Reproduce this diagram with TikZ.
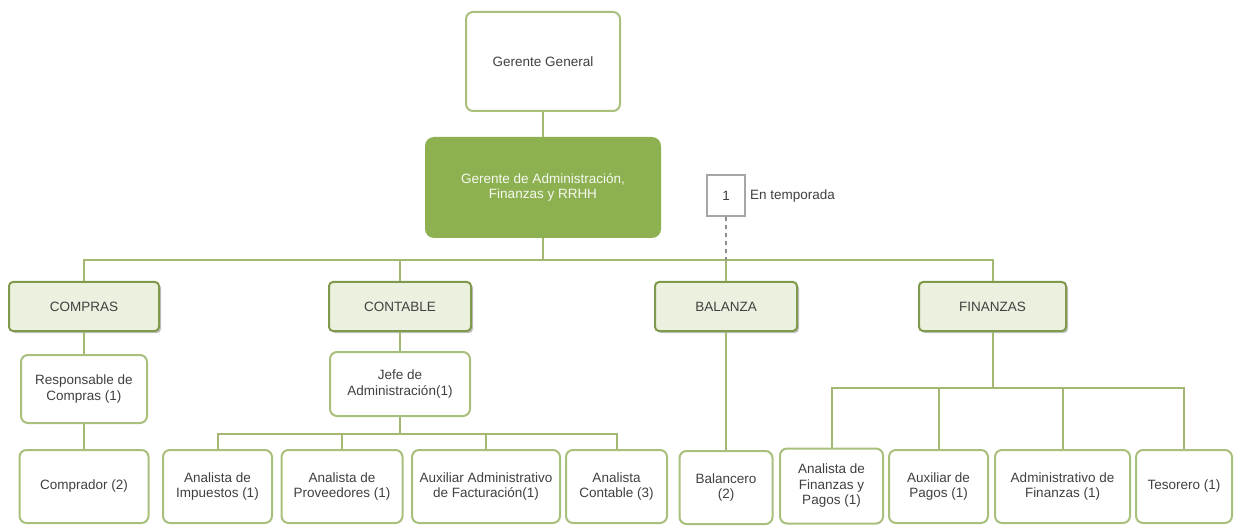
\documentclass[tikz,border=0pt]{standalone}
\usepackage{fontspec}
\setmainfont{Liberation Sans}
\usetikzlibrary{shadows}
\definecolor{linecol}{HTML}{A2B873}
\definecolor{boxline}{HTML}{A9C07C}
\definecolor{deptfill}{HTML}{EBF1DE}
\definecolor{deptline}{HTML}{7F9A4C}
\definecolor{mainfill}{HTML}{8DB151}
\definecolor{txt}{HTML}{404040}
\tikzset{
  every node/.style={font=\fontsize{13.5}{15.5}\selectfont, text=txt, align=center, inner sep=2pt},
  plain/.style={draw=boxline, line width=2pt, fill=white, rounded corners=7pt},
  dept/.style={draw=deptline, line width=2pt, fill=deptfill, rounded corners=4pt,
    drop shadow={shadow xshift=2pt, shadow yshift=-2pt, fill=black!40, opacity=.6}},
  head/.style={fill=mainfill, rounded corners=9pt, text=white!92!mainfill},
  note/.style={draw=black!35, line width=1.2pt, fill=white},
  conn/.style={draw=linecol, line width=2pt},
  dashconn/.style={draw=black!45, line width=1.2pt, dash pattern=on 4pt off 4pt}
}
\begin{document}
\begin{tikzpicture}[x=1pt, y=-1pt]
\useasboundingbox (0,0) rectangle (1238,526);

% top management
\node[plain, minimum width=154, minimum height=99] (gg) at (543,61.5) {Gerente General};
\node[head, minimum width=236, minimum height=101] (ga) at (543,187.5) {Gerente de Administración,\\ Finanzas y RRHH};

% seasonal legend
\node[note, minimum width=38, minimum height=41] (leg) at (726,195.5) {1};
\node[anchor=west, inner sep=0pt] (legtxt) at (750,196) {En temporada};

% departments
\node[dept, minimum width=150, minimum height=49] (compras) at (84,306.5) {COMPRAS};
\node[dept, minimum width=142, minimum height=49] (contable) at (400,306.5) {CONTABLE};
\node[dept, minimum width=142, minimum height=49] (balanza) at (726,306.5) {BALANZA};
\node[dept, minimum width=147, minimum height=49] (finanzas) at (992.5,306.5) {FINANZAS};

% second level
\node[plain, minimum width=126, minimum height=68] (resp) at (84,389) {Responsable de\\ Compras (1)};
\node[plain, minimum width=140, minimum height=64] (jefe) at (400,384) {Jefe de\\ Administración(1)};

% staff
\node[plain, minimum width=129, minimum height=73] (compr) at (84,486.5) {Comprador (2)};
\node[plain, minimum width=109, minimum height=73] (imp) at (217.5,486.5) {Analista de\\ Impuestos (1)};
\node[plain, minimum width=121, minimum height=73] (prov) at (342,486.5) {Analista de\\ Proveedores (1)};
\node[plain, minimum width=148, minimum height=73] (aux) at (486,486.5) {Auxiliar Administrativo\\ de Facturación(1)};
\node[plain, minimum width=101, minimum height=73] (acont) at (616.5,486.5) {Analista\\ Contable (3)};
\node[plain, minimum width=93, minimum height=73] (bal) at (726,487.5) {Balancero\\ (2)};
\node[plain, minimum width=103, minimum height=75] (afin) at (831.5,486) {Analista de\\ Finanzas y\\ Pagos (1)};
\node[plain, minimum width=99, minimum height=73] (apag) at (938.5,486.5) {Auxiliar de\\ Pagos (1)};
\node[plain, minimum width=135, minimum height=73] (adfin) at (1062.5,486.5) {Administrativo de\\ Finanzas (1)};
\node[plain, minimum width=96, minimum height=73] (tes) at (1184,486.5) {Tesorero (1)};

% bus levels
\coordinate (bus) at (0,260);
\coordinate (busc) at (0,434);
\coordinate (busf) at (0,388);

\draw[conn] (gg.south) -- (ga.north);
\draw[conn] (ga.south) -- (ga.south |- bus) -| (compras.north);
\draw[conn] (ga.south |- bus) -| (contable.north);
\draw[conn] (ga.south |- bus) -| (balanza.north);
\draw[conn] (ga.south |- bus) -| (finanzas.north);
\draw[dashconn] (leg.south) -- (leg.south |- bus);

\draw[conn] (compras.south) -- (resp.north);
\draw[conn] (resp.south) -- (compr.north);

\draw[conn] (contable.south) -- (jefe.north);
\draw[conn] (jefe.south) -- (jefe.south |- busc) -| (imp.north);
\draw[conn] (jefe.south |- busc) -| (prov.north);
\draw[conn] (jefe.south |- busc) -| (aux.north);
\draw[conn] (jefe.south |- busc) -| (acont.north);

\draw[conn] (balanza.south) -- (bal.north);

\draw[conn] (finanzas.south) -- (finanzas.south |- busf) -| (afin.north);
\draw[conn] (finanzas.south |- busf) -| (apag.north);
\draw[conn] (finanzas.south |- busf) -| (adfin.north);
\draw[conn] (finanzas.south |- busf) -| (tes.north);
\end{tikzpicture}
\end{document}
